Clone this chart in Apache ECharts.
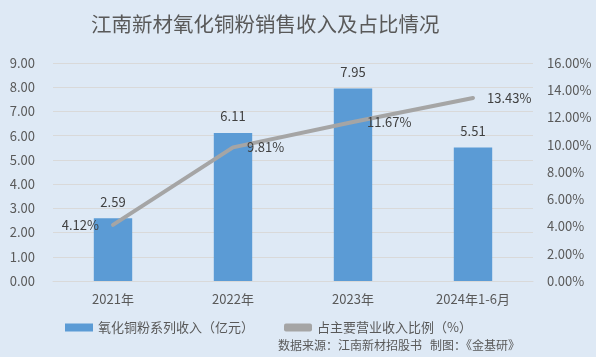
<!DOCTYPE html>
<html><head><meta charset="utf-8">
<script src="https://cdn.jsdelivr.net/npm/echarts@6/dist/echarts.min.js"></script>
<style>html,body{margin:0;padding:0;background:#dee9f5;}#c{width:596px;height:357px;}</style>
</head><body><div id="c"></div>
<script>
const categories = ['2021年', '2022年', '2023年', '2024年1-6月'];
const revenue = [2.59, 6.11, 7.95, 5.51];
const ratio = [4.12, 9.81, 11.67, 13.43];
const leftTicks = {min: 0, max: 9, interval: 1};
const rightTicks = {min: 0, max: 16, interval: 2};
const font = '"Microsoft YaHei","Noto Sans CJK SC",sans-serif';
const ratioLabelPos = ['left', 'right', 'right', 'right'];
const chart = echarts.init(document.getElementById('c'));
chart.setOption({
  backgroundColor: '#dee9f5',
  animation: false,
  textStyle: {fontFamily: font},
  title: {text: '江南新材氧化铜粉销售收入及占比情况', left: 86, top: 9,
    textStyle: {fontSize: 20.5, fontWeight: 'normal', color: '#595959', fontFamily: font}},
  graphic: [{type: 'text', right: 76, top: 339,
    style: {text: '数据来源：江南新材招股书   制图：《金基研》', fill: '#595959', font: '12px ' + font}}],
  legend: {bottom: 18, left: 60, itemGap: 30, itemWidth: 28, itemHeight: 8,
    textStyle: {color: '#595959', fontSize: 13, fontFamily: font},
    data: [{name: '氧化铜粉系列收入（亿元）', icon: 'rect'},
           {name: '占主要营业收入比例（%）', icon: 'roundRect', itemStyle: {color: '#a5a5a5', opacity: 1}}]},
  grid: {left: 53, right: 63, top: 63, bottom: 76},
  xAxis: {type: 'category', data: categories,
    axisLine: {lineStyle: {color: '#d9d9d9'}}, axisTick: {show: false},
    axisLabel: {color: '#595959', fontSize: 13, margin: 12}},
  yAxis: [
    {type: 'value', min: leftTicks.min, max: leftTicks.max, interval: leftTicks.interval,
      axisLabel: {color: '#595959', fontSize: 13, formatter: v => v.toFixed(2), margin: 18},
      splitLine: {lineStyle: {color: '#d9d9d9'}}, axisLine: {show: false}, axisTick: {show: false}},
    {type: 'value', min: rightTicks.min, max: rightTicks.max, interval: rightTicks.interval,
      axisLabel: {color: '#595959', fontSize: 13, formatter: v => v.toFixed(2) + '%', margin: 14},
      splitLine: {show: false}, axisLine: {show: false}, axisTick: {show: false}}
  ],
  series: [
    {name: '氧化铜粉系列收入（亿元）', type: 'bar', data: revenue, barWidth: '32%',
      itemStyle: {color: '#5b9bd5'},
      label: {show: true, position: 'top', distance: 10, color: '#404040', fontSize: 13, formatter: p => p.value.toFixed(2)}},
    {name: '占主要营业收入比例（%）', type: 'line', yAxisIndex: 1,
      data: ratio.map((v, i) => ({value: v, label: {position: ratioLabelPos[i]}})),
      symbol: 'circle', symbolSize: 2, showSymbol: true, showAllSymbol: true,
      lineStyle: {color: '#a5a5a5', width: 4, cap: 'round'}, itemStyle: {color: '#a5a5a5'},
      label: {show: true, distance: 13, color: '#404040', fontSize: 13, formatter: p => p.value.toFixed(2) + '%'}}
  ]
});
</script></body></html>
